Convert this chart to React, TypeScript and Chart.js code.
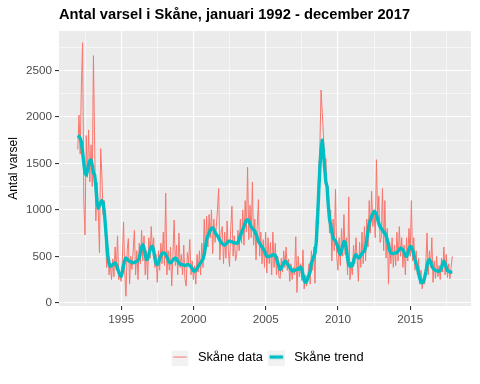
import React, { useEffect, useRef } from 'react';
import { Chart, registerables } from 'chart.js';

Chart.register(...registerables);

const START_YEAR = 1992;
const chartTitle = 'Antal varsel i Skåne, januari 1992 - december 2017';
const yAxisTitle = 'Antal varsel';
const seriesNames = ['Skåne data', 'Skåne trend'];

// monthly values, Jan 1992 .. Dec 2017
const dataValues = [
  1650, 2020, 1600, 2350, 2800, 1100, 730, 1800, 1350, 1860, 1300, 1700, // 1992
  1250, 2660, 1700, 880, 1300, 1000, 540, 1660, 1380, 950, 1100, 700, // 1993
  380, 560, 300, 420, 250, 470, 280, 600, 350, 720, 250, 300, // 1994
  230, 470, 870, 330, 70, 560, 690, 200, 500, 360, 560, 780, // 1995
  300, 560, 250, 640, 420, 780, 450, 720, 300, 560, 250, 700, // 1996
  480, 820, 560, 700, 380, 520, 220, 560, 350, 640, 420, 760, // 1997
  400, 1180, 300, 560, 350, 600, 180, 520, 890, 400, 620, 300, // 1998
  750, 380, 520, 300, 620, 260, 180, 540, 420, 680, 300, 450, // 1999
  250, 400, 200, 520, 330, 560, 300, 640, 380, 900, 520, 930, // 2000
  600, 950, 700, 1000, 530, 900, 650, 820, 1000, 1230, 460, 760, // 2001
  820, 420, 760, 480, 880, 560, 390, 800, 1040, 500, 720, 450, // 2002
  520, 780, 560, 900, 640, 1000, 620, 1100, 760, 1460, 680, 1050, // 2003
  700, 1300, 620, 900, 460, 820, 1110, 500, 760, 420, 680, 380, // 2004
  760, 320, 700, 420, 650, 300, 760, 380, 640, 300, 500, 280, // 2005
  260, 480, 330, 560, 380, 600, 350, 470, 230, 420, 250, 380, // 2006
  300, 710, 110, 500, 280, 420, 240, 570, 150, 300, 180, 260, // 2007
  420, 200, 560, 350, 600, 210, 900, 1050, 1400, 1650, 2290, 2050, // 2008
  1800, 1400, 1550, 1100, 1250, 750, 1000, 450, 900, 560, 1220, 500, // 2009
  350, 700, 400, 800, 500, 950, 520, 700, 300, 1140, 250, 420, // 2010
  300, 620, 420, 700, 480, 230, 650, 380, 760, 420, 820, 450, // 2011
  900, 600, 1100, 750, 1200, 820, 1000, 700, 1540, 900, 1150, 650, // 2012
  700, 1230, 560, 1100, 480, 800, 200, 650, 420, 700, 380, 620, // 2013
  400, 760, 450, 820, 500, 700, 380, 620, 300, 700, 450, 800, // 2014
  500, 1100, 450, 700, 350, 560, 300, 480, 200, 350, 150, 280, // 2015
  200, 420, 750, 300, 560, 380, 700, 220, 450, 260, 500, 280, // 2016
  400, 250, 480, 330, 600, 300, 520, 270, 420, 260, 380, 500, // 2017
];

const trendValues = [
  1800, 1790, 1770, 1730, 1620, 1500, 1400, 1375, 1420, 1490, 1530, 1536, // 1992
  1480, 1400, 1375, 1250, 1080, 1018, 1050, 1080, 1100, 1080, 980, 820, // 1993
  650, 500, 420, 390, 400, 410, 420, 430, 410, 370, 330, 300, // 1994
  285, 330, 400, 460, 482, 470, 455, 446, 440, 435, 430, 435, // 1995
  440, 445, 455, 480, 540, 600, 625, 590, 520, 465, 470, 520, // 1996
  570, 600, 607, 560, 480, 420, 410, 430, 470, 510, 530, 536, // 1997
  536, 520, 490, 460, 435, 430, 440, 460, 475, 482, 470, 450, // 1998
  430, 415, 410, 410, 405, 400, 405, 410, 410, 400, 385, 370, // 1999
  345, 340, 350, 370, 390, 410, 430, 450, 470, 520, 600, 680, // 2000
  720, 750, 780, 800, 805, 790, 760, 735, 720, 700, 670, 650, // 2001
  635, 625, 620, 630, 645, 660, 665, 660, 655, 650, 645, 643, // 2002
  640, 650, 680, 720, 760, 790, 820, 860, 890, 893, 880, 850, // 2003
  820, 800, 786, 770, 740, 700, 660, 640, 620, 600, 580, 560, // 2004
  520, 500, 495, 500, 505, 510, 515, 518, 510, 480, 430, 390, // 2005
  357, 370, 400, 430, 446, 440, 420, 400, 380, 360, 345, 340, // 2006
  345, 355, 360, 360, 375, 385, 360, 300, 240, 220, 230, 270, // 2007
  300, 340, 430, 460, 500, 536, 650, 880, 1170, 1450, 1650, 1750, // 2008
  1620, 1450, 1300, 1250, 1050, 900, 840, 760, 700, 680, 670, 630, // 2009
  600, 540, 520, 560, 620, 660, 650, 580, 480, 410, 392, 420, // 2010
  400, 450, 500, 518, 500, 482, 490, 510, 530, 550, 553, 600, // 2011
  680, 770, 850, 893, 930, 960, 982, 975, 950, 900, 850, 821, // 2012
  800, 780, 760, 750, 720, 680, 620, 560, 536, 530, 530, 535, // 2013
  536, 540, 555, 575, 589, 580, 571, 540, 510, 500, 530, 580, // 2014
  607, 600, 570, 520, 464, 420, 380, 320, 260, 220, 214, 230, // 2015
  270, 330, 400, 450, 464, 440, 400, 370, 357, 350, 345, 340, // 2016
  339, 345, 380, 420, 446, 420, 380, 345, 339, 335, 330, 330, // 2017
];

const xMajorTicks = [1995, 2000, 2005, 2010, 2015];
const xMinorTicks = [1992.5, 1997.5, 2002.5, 2007.5, 2012.5, 2017.5];
const yMajorTicks = [0, 500, 1000, 1500, 2000, 2500];
const yMinorTicks = [250, 750, 1250, 1750, 2250, 2750];

const RED = '#F8766D';
const TEAL = '#00BFC4';
const FONT = "'Liberation Sans', Arial, sans-serif";

function makeKey(color: string, width: number): HTMLCanvasElement {
  const c = document.createElement('canvas');
  c.width = 25;
  c.height = 17;
  const g = c.getContext('2d')!;
  g.fillStyle = '#F2F2F2';
  g.fillRect(5, 0, 17, 17);
  g.strokeStyle = color;
  g.lineWidth = width;
  g.beginPath();
  g.moveTo(6.7, 8.5);
  g.lineTo(20.3, 8.5);
  g.stroke();
  return c;
}

export default function App() {
  const ref = useRef<HTMLCanvasElement | null>(null);

  useEffect(() => {
    if (!ref.current) return;
    const toPts = (vals: number[]) => vals.map((v, i) => ({ x: START_YEAR + i / 12, y: v }));
    const xMajorSet = new Set(xMajorTicks);
    const yMajorSet = new Set(yMajorTicks);
    const keys = [makeKey(RED, 1), makeKey(TEAL, 3.4)];

    const panelBg = {
      id: 'panelBg',
      beforeDraw(chart: any) {
        const { ctx, chartArea } = chart;
        ctx.save();
        ctx.fillStyle = '#FFFFFF';
        ctx.fillRect(0, 0, chart.width, chart.height);
        ctx.fillStyle = '#EBEBEB';
        ctx.fillRect(chartArea.left, chartArea.top, chartArea.right - chartArea.left, chartArea.bottom - chartArea.top);
        ctx.restore();
      },
    };

    const chart = new Chart(ref.current, {
      type: 'line',
      data: {
        datasets: [
          {
            label: seriesNames[0],
            data: toPts(dataValues),
            borderColor: RED,
            borderWidth: 1,
            pointRadius: 0,
            tension: 0,
            order: 1,
            borderJoinStyle: 'round',
          },
          {
            label: seriesNames[1],
            data: toPts(trendValues),
            borderColor: TEAL,
            borderWidth: 3.4,
            pointRadius: 0,
            tension: 0,
            order: 0,
            borderJoinStyle: 'round',
          },
        ],
      },
      options: {
        animation: false,
        responsive: false,
        devicePixelRatio: 1,
        parsing: false as any,
        layout: { padding: { top: 0, left: 0, right: 9, bottom: 10.55 } },
        scales: {
          x: {
            type: 'linear',
            bounds: 'data',
            min: 1990.7,
            max: 2019.21,
            afterBuildTicks: (s: any) => {
              s.ticks = [...xMinorTicks, ...xMajorTicks].sort((a, b) => a - b).map((v) => ({ value: v }));
            },
            afterFit: (s: any) => {
              s.height = 44.6;
            },
            border: { display: false },
            grid: {
              color: '#FFFFFF',
              lineWidth: (c: any) => (xMajorSet.has(c.tick?.value) ? 1.1 : 0.55),
              tickColor: (c: any) => (xMajorSet.has(c.tick?.value) ? '#333333' : 'rgba(0,0,0,0)'),
              tickWidth: 1.1,
              tickLength: 4,
              drawTicks: true,
            },
            ticks: {
              autoSkip: false,
              maxRotation: 0,
              padding: 3,
              color: '#4D4D4D',
              font: { family: FONT, size: 11.7 },
              callback: (v: any) => (xMajorSet.has(v) ? String(v) : ''),
            },
          },
          y: {
            type: 'linear',
            bounds: 'data',
            min: -35,
            max: 2925,
            afterBuildTicks: (s: any) => {
              s.ticks = [...yMajorTicks, ...yMinorTicks].sort((a, b) => a - b).map((v) => ({ value: v }));
            },
            afterFit: (s: any) => {
              s.width = 59;
            },
            border: { display: false },
            grid: {
              color: '#FFFFFF',
              lineWidth: (c: any) => (yMajorSet.has(c.tick?.value) ? 1.1 : 0.55),
              tickColor: (c: any) => (yMajorSet.has(c.tick?.value) ? '#333333' : 'rgba(0,0,0,0)'),
              tickWidth: 1.1,
              tickLength: 4,
              drawTicks: true,
            },
            ticks: {
              autoSkip: false,
              padding: 3,
              color: '#4D4D4D',
              font: { family: FONT, size: 11.7 },
              callback: (v: any) => (yMajorSet.has(v) ? String(v) : ''),
            },
            title: {
              display: true,
              text: yAxisTitle,
              color: '#000000',
              font: { family: FONT, size: 12 },
              padding: { top: 6, bottom: 0 },
            },
          },
        },
        plugins: {
          tooltip: { enabled: false },
          title: {
            display: true,
            text: chartTitle,
            align: 'start',
            fullSize: false,
            color: '#000000',
            font: { family: FONT, size: 14.7, weight: 'bold' },
            padding: { top: 6.2, bottom: 7.2 },
          },
          legend: {
            display: true,
            position: 'bottom',
            fullSize: false,
            labels: {
              usePointStyle: true,
              pointStyleWidth: 25,
              padding: 0,
              color: '#000000',
              font: { family: FONT, size: 12.85 },
              generateLabels: () =>
                seriesNames.map((name, i) => ({
                  text: name,
                  fillStyle: 'rgba(0,0,0,0)',
                  strokeStyle: 'rgba(0,0,0,0)',
                  lineWidth: 0,
                  pointStyle: keys[i] as any,
                  hidden: false,
                  datasetIndex: i,
                  fontColor: '#000000',
                })),
            },
          },
        },
      } as any,
      plugins: [panelBg],
    });

    return () => chart.destroy();
  }, []);

  return (
    <div style={{ position: 'fixed', left: 0, top: 0, width: 480, height: 384, background: '#fff' }}>
      <canvas ref={ref} width={480} height={384} style={{ width: 480, height: 384, display: 'block' }} />
    </div>
  );
}
